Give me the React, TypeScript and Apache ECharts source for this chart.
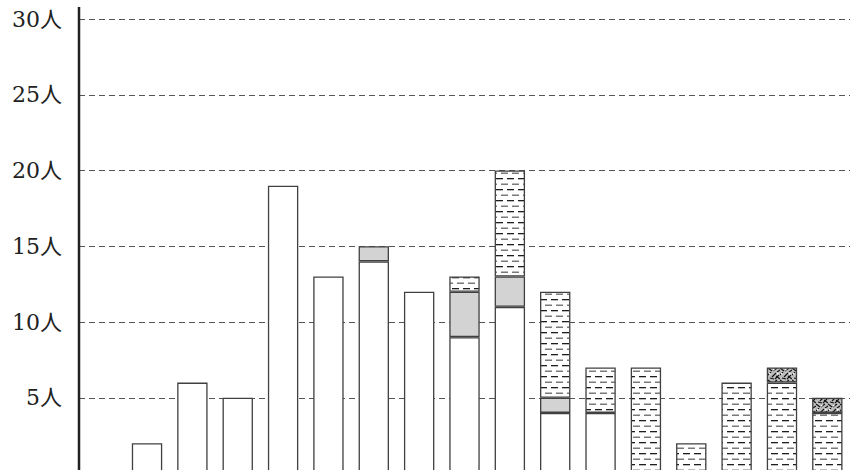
import React, { useEffect, useRef } from "react";
import * as echarts from "echarts";

const categories = ["1", "2", "3", "4", "5", "6", "7", "8", "9", "10", "11", "12", "13", "14", "15", "16", "17"];
const whiteValues = [null, 2, 6, 5, 19, 13, 14, 12, 9, 11, 4, 4, null, null, null, null, null];
const grayValues = [null, null, null, null, null, null, 1, null, 3, 2, 1, null, null, null, null, null, null];
const dashedValues = [null, null, null, null, null, null, null, null, 1, 7, 7, 3, 7, 2, 6, 6, 4];
const hatchedValues = [null, null, null, null, null, null, null, null, null, null, null, null, null, null, null, 1, 1];
const yTicks = [0, 5, 10, 15, 20, 25, 30];

function dashPattern(): HTMLCanvasElement {
  const c = document.createElement("canvas");
  c.width = 22;
  c.height = 11;
  const g = c.getContext("2d")!;
  g.fillStyle = "#ffffff";
  g.fillRect(0, 0, 22, 11);
  g.fillStyle = "#1e1e1e";
  g.fillRect(1, 2, 7, 1.3);
  g.fillRect(12, 2, 7, 1.3);
  g.fillStyle = "#7a7a7a";
  g.fillRect(6, 7.5, 7, 1.5);
  g.fillRect(17, 7.5, 5, 1.5);
  g.fillRect(0, 7.5, 2, 1.5);
  return c;
}

function hatchPattern(): HTMLCanvasElement {
  const c = document.createElement("canvas");
  c.width = 12;
  c.height = 12;
  const g = c.getContext("2d")!;
  g.fillStyle = "#bdbdbd";
  g.fillRect(0, 0, 12, 12);
  g.strokeStyle = "#111111";
  g.lineWidth = 1.1;
  const strokes = [
    [0, 3, 3, 0], [4, 5, 8, 1], [8, 4, 12, 7], [0, 8, 4, 11],
    [5, 11, 9, 8], [9, 12, 12, 10], [2, 6, 6, 7], [7, 7, 11, 3],
  ];
  for (const [x1, y1, x2, y2] of strokes) {
    g.beginPath();
    g.moveTo(x1, y1);
    g.lineTo(x2, y2);
    g.stroke();
  }
  g.fillStyle = "#ffffff";
  g.fillRect(1, 1, 1.5, 1.5);
  g.fillRect(9, 1, 1.5, 1.5);
  g.fillRect(5, 9, 1.5, 1.5);
  return c;
}

export default function App() {
  const ref = useRef<HTMLDivElement>(null);
  useEffect(() => {
    const chart = echarts.init(ref.current!, null, { renderer: "svg" });
    const dash = dashPattern();
    const hatch = hatchPattern();
    const border = { borderColor: "#404040", borderWidth: 1.3 };
    chart.setOption({
      animation: false,
      grid: { left: 79, right: 0, top: 19, bottom: 16.5 },
      xAxis: {
        type: "category",
        data: categories,
        axisLine: { show: false },
        axisTick: { show: false },
        axisLabel: { show: false },
      },
      yAxis: {
        type: "value",
        min: yTicks[0],
        max: yTicks[yTicks.length - 1],
        interval: 5,
        axisLine: { show: false },
        axisTick: { show: false },
        axisLabel: {
          formatter: (v: number) => (v === 0 ? "" : v + "人"),
          fontFamily: "'DejaVu Serif', 'Noto Sans CJK JP', serif",
          fontSize: 22,
          color: "#222",
          margin: 17,
        },
        splitLine: {
          lineStyle: { color: "#555", type: [6, 4], width: 1 },
        },
      },
      graphic: [
        {
          type: "line",
          shape: { x1: 79, y1: 7, x2: 79, y2: 490 },
          style: { stroke: "#222", lineWidth: 2.5 },
          z: 10,
        },
      ],
      series: [
        {
          type: "bar",
          stack: "a",
          data: whiteValues,
          barWidth: "67%",
          itemStyle: { color: "#ffffff", ...border },
        },
        {
          type: "bar",
          stack: "a",
          data: grayValues,
          itemStyle: { color: "#d3d3d3", ...border },
        },
        {
          type: "bar",
          stack: "a",
          data: dashedValues,
          itemStyle: {
            color: { image: dash, repeat: "repeat", imageWidth: 22, imageHeight: 11 },
            ...border,
          },
        },
        {
          type: "bar",
          stack: "a",
          data: hatchedValues,
          itemStyle: {
            color: { image: hatch, repeat: "repeat", imageWidth: 12, imageHeight: 12 },
            ...border,
          },
        },
      ],
    });
    return () => chart.dispose();
  }, []);
  return (
    <div
      ref={ref}
      style={{ position: "absolute", left: 0, top: 0, width: 850, height: 490 }}
    />
  );
}
